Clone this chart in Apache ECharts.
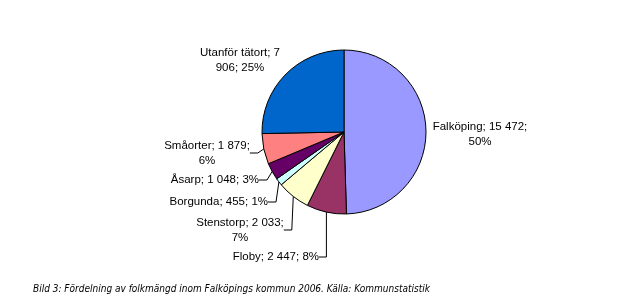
<!DOCTYPE html>
<html><head><meta charset="utf-8">
<script src="https://cdn.jsdelivr.net/npm/echarts@6/dist/echarts.min.js"></script>
<style>html,body{margin:0;padding:0;background:#fff}#c{width:627px;height:301px}</style>
</head><body><div id="c"></div>
<script>
const names = ["Falköping","Floby","Stenstorp","Borgunda","Åsarp","Småorter","Utanför tätort"];
const values = [15472,2447,2033,455,1048,1879,7906];
const labels = ["Falköping; 15 472;\n50%","Floby; 2 447; 8%","Stenstorp; 2 033;\n7%","Borgunda; 455; 1%","Åsarp; 1 048; 3%","Småorter; 1 879;\n6%","Utanför tätort; 7\n906; 25%"];
const colors = ["#9999FF","#993366","#FFFFCC","#CCFFFF","#660066","#FF8080","#0066CC"];
const caption = "Bild 3: Fördelning av folkmängd inom Falköpings kommun 2006. Källa: Kommunstatistik";

const labelPos = [
  {x:480,y:134,align:'center'},
  {x:319,y:257,align:'right'},
  {x:240,y:230,align:'center'},
  {x:268,y:202,align:'right'},
  {x:259,y:180,align:'right'},
  {x:207,y:153,align:'center'},
  {x:240,y:60,align:'center'}
];
const showLine = [false,true,true,true,true,true,false];

const chart = echarts.init(document.getElementById('c'));
chart.setOption({
  animation:false,
  title:{text:caption,left:33,top:284,padding:0,textStyle:{fontFamily:'DejaVu Sans Condensed',fontStyle:'italic',fontWeight:'normal',fontSize:10,color:'#000'}},
  series:[{
    type:'pie',
    center:[344,132],
    radius:82,
    startAngle:90,
    clockwise:true,
    data:names.map((n,i)=>({name:n,value:values[i],itemStyle:{color:colors[i]},
      labelLine:{show:showLine[i]}})),
    itemStyle:{borderColor:'#000',borderWidth:1},
    label:{show:true,formatter:p=>labels[p.dataIndex],fontFamily:'Liberation Sans',fontSize:11.5,color:'#000',lineHeight:15,align:'center'},
    labelLine:{show:true,lineStyle:{color:'#000',width:1},length:8,length2:8},
    labelLayout:function(params){
      const p = labelPos[params.dataIndex];
      return {x:p.x,y:p.y,align:p.align,verticalAlign:'middle'};
    },
    emphasis:{disabled:true}
  }]
});
</script></body></html>
